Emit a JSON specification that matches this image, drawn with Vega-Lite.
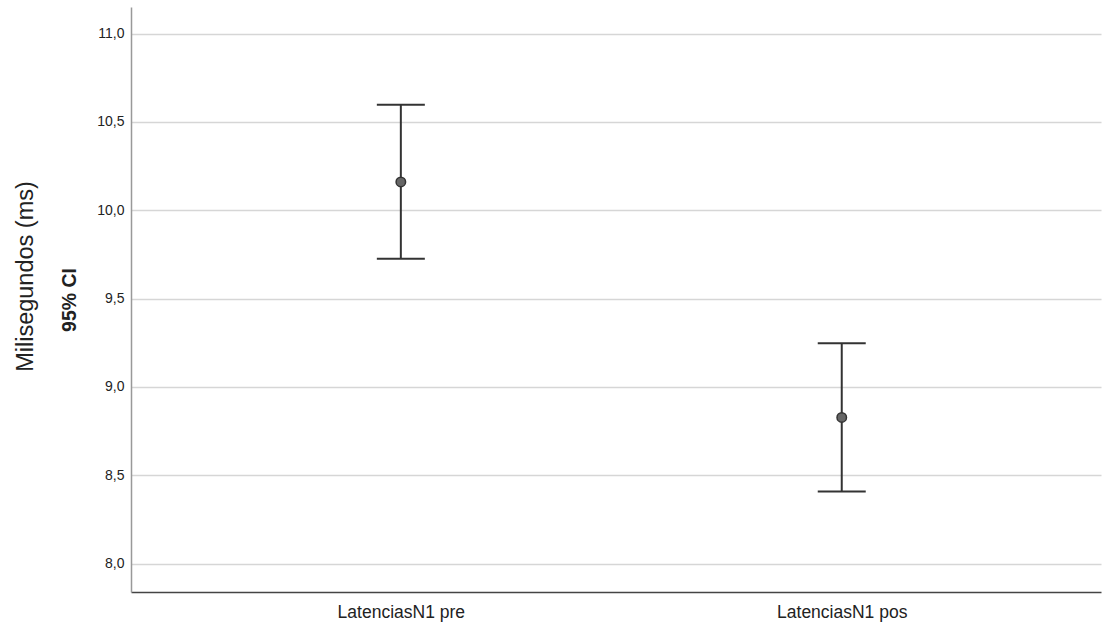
{
  "$schema": "https://vega.github.io/schema/vega-lite/v6.json",
  "width": 970,
  "height": 585,
  "autosize": "none",
  "padding": {"left": 131, "top": 7, "right": 2, "bottom": 36},
  "background": "white",
  "config": {
    "view": {"stroke": null},
    "font": "Liberation Sans"
  },
  "title": {
    "text": "Milisegundos (ms)",
    "orient": "left",
    "anchor": "middle",
    "fontSize": 23.5,
    "fontWeight": "normal",
    "font": "Liberation Sans",
    "color": "#222222",
    "offset": 22,
    "dx": 23
  },
  "data": {
    "values": [
      {"group": "LatenciasN1 pre", "mean": 10.16, "lower": 9.725, "upper": 10.597},
      {"group": "LatenciasN1 pos", "mean": 8.828, "lower": 8.408, "upper": 9.247}
    ]
  },
  "encoding": {
    "x": {
      "field": "group",
      "type": "nominal",
      "sort": ["LatenciasN1 pre", "LatenciasN1 pos"],
      "scale": {"type": "point", "padding": 0.6, "align": 0.51},
      "axis": {
        "title": null,
        "labelAngle": 0,
        "labelFontSize": 17.5,
        "labelColor": "#222222",
        "labelPadding": 11,
        "ticks": false,
        "domainColor": "#444444",
        "domainWidth": 1.5,
        "grid": false
      }
    }
  },
  "layer": [
    {
      "mark": {"type": "rule", "color": "#333333", "strokeWidth": 2},
      "encoding": {
        "y": {
          "field": "lower",
          "type": "quantitative",
          "scale": {"domain": [7.84, 11.15], "nice": false, "zero": false},
          "axis": {
            "title": "95% CI",
            "titleFontSize": 19.5,
            "titleFontWeight": "bold",
            "titleColor": "#222222",
            "titlePadding": 17,
            "values": [8, 8.5, 9, 9.5, 10, 10.5, 11],
            "labelExpr": "replace(format(datum.value, '.1f'), '.', ',')",
            "labelFontSize": 14,
            "labelColor": "#222222",
            "labelPadding": 7,
            "ticks": false,
            "domainColor": "#999999",
            "domainWidth": 1.5,
            "grid": true,
            "gridColor": "#d6d6d6",
            "gridWidth": 1.5
          }
        },
        "y2": {"field": "upper"}
      }
    },
    {
      "mark": {"type": "tick", "color": "#333333", "thickness": 2, "size": 48, "opacity": 1},
      "encoding": {"y": {"field": "lower", "type": "quantitative"}}
    },
    {
      "mark": {"type": "tick", "color": "#333333", "thickness": 2, "size": 48, "opacity": 1},
      "encoding": {"y": {"field": "upper", "type": "quantitative"}}
    },
    {
      "mark": {"type": "point", "filled": true, "fill": "#666666", "stroke": "#333333", "strokeWidth": 1.5, "size": 90, "opacity": 1},
      "encoding": {"y": {"field": "mean", "type": "quantitative"}}
    }
  ]
}
